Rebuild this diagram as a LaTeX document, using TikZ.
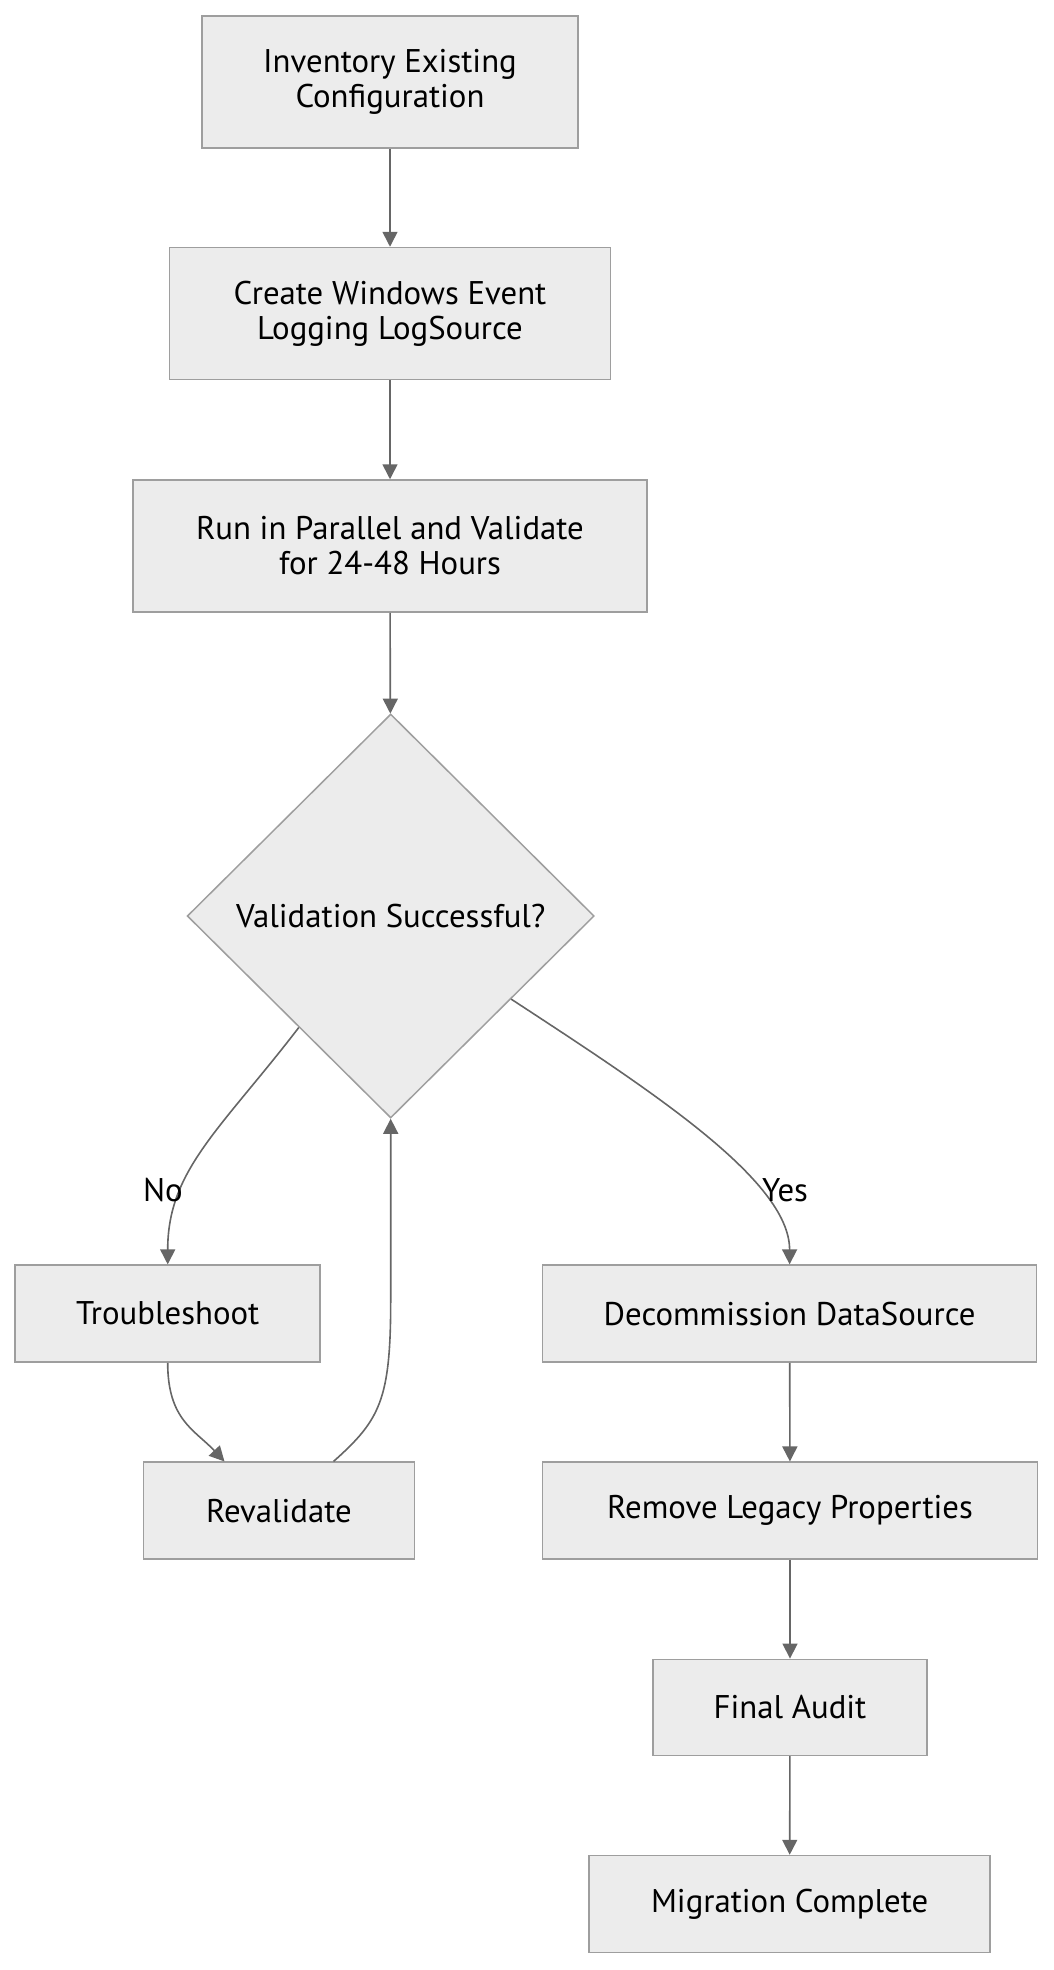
\documentclass[tikz,border=0pt]{standalone}
\usepackage{fontspec}
\setmainfont{PT Sans}
\usetikzlibrary{shapes.geometric,arrows.meta,calc}
\definecolor{boxfill}{HTML}{ECECEC}
\definecolor{boxline}{HTML}{9E9E9E}
\definecolor{edgecol}{HTML}{666666}
\begin{document}
\begin{tikzpicture}[x=1pt,y=-1pt,
  box/.style={draw=boxline,fill=boxfill,line width=1.5pt,inner sep=0pt,align=center,
    font=\fontsize{32.8}{35}\selectfont,text=black},
  dec/.style={box,diamond,aspect=1},
  flow/.style={draw=edgecol,line width=1.6pt,-{Triangle[length=15pt,width=15pt]}},
  lbl/.style={font=\fontsize{32.8}{35}\selectfont,text=black,inner sep=1pt}]
\useasboundingbox (0,0) rectangle (1054,1970);
\node[box,minimum width=376pt,minimum height=132pt] (n1) at (390,82) {Inventory Existing\\Configuration};
\node[box,minimum width=441pt,minimum height=132pt] (n2) at (390,313.5) {Create Windows Event\\Logging LogSource};
\node[box,minimum width=514pt,minimum height=132pt] (n3) at (390,546) {Run in Parallel and Validate\\for 24-48 Hours};
\node[dec,minimum width=407pt,minimum height=404pt] (dia) at (390.7,916) {Validation Successful?};
\node[box,minimum width=305pt,minimum height=97pt] (ts) at (167.7,1313.6) {Troubleshoot};
\node[box,minimum width=271pt,minimum height=97pt] (rev) at (279,1510.7) {Revalidate};
\node[box,minimum width=494pt,minimum height=97pt] (dcm) at (789.6,1313.6) {Decommission DataSource};
\node[box,minimum width=495pt,minimum height=97pt] (rem) at (790,1510.7) {Remove Legacy Properties};
\node[box,minimum width=274pt,minimum height=96pt] (fin) at (790,1707.3) {Final Audit};
\node[box,minimum width=401pt,minimum height=97pt] (mig) at (789.6,1904) {Migration Complete};

\draw[flow] (n1) -- (n2);
\draw[flow] (n2) -- (n3);
\draw[flow] (n3) -- (dia);
\draw[flow] ($(dia.west)!0.55!(dia.south)$) .. controls (220,1130) and (ts.north|-0,1170) .. (ts.north);
\draw[flow] ($(dia.east)!0.41!(dia.south)$) .. controls (650,1090) and (dcm.north|-0,1180) .. (dcm.north);
\draw[flow] (ts.south) .. controls (ts.south|-0,1420) and (195,1430) .. ($(rev.north west)!0.30!(rev.north east)$);
\draw[flow] ($(rev.north west)!0.70!(rev.north east)$) .. controls (380,1420) and (dia.south|-0,1400) .. (dia.south|-0,1300) -- (dia.south);
\draw[flow] (dcm) -- (rem);
\draw[flow] (rem) -- (fin);
\draw[flow] (fin) -- (mig);
\node[lbl] (lno) at (163,1190) {No};
\node[lbl] (lyes) at (785,1190) {Yes};
\end{tikzpicture}
\end{document}
